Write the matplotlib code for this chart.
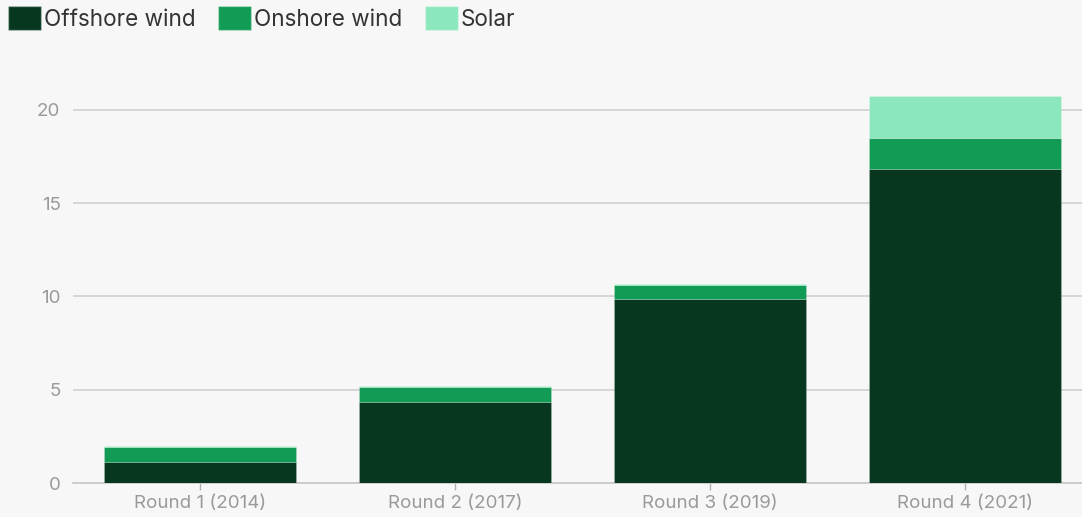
import matplotlib.pyplot as plt
from matplotlib.patches import Patch

rounds = ['Round 1 (2014)', 'Round 2 (2017)', 'Round 3 (2019)', 'Round 4 (2021)']
offshore = [1.13, 4.34, 9.85, 16.82]
onshore = [0.82, 0.82, 0.77, 1.66]
solar = [0.05, 0.05, 0.05, 2.27]

colors = {'Offshore wind': '#07381F', 'Onshore wind': '#129B55', 'Solar': '#8CE8BC'}
bg = '#F7F7F7'

plt.rcParams['font.family'] = ['Inter', 'DejaVu Sans']

fig = plt.figure(figsize=(10.82, 5.17), dpi=100, facecolor=bg)
ax = fig.add_axes([73 / 1082, 34 / 517, 1 - 73 / 1082, (483 - 60) / 517])
ax.set_facecolor(bg)

x = range(len(rounds))
bottom2 = [a + b for a, b in zip(offshore, onshore)]
kw = dict(width=0.75, edgecolor=(1, 1, 1, 0.2), linewidth=0.6, zorder=3)
ax.bar(x, offshore, color=colors['Offshore wind'], **kw)
ax.bar(x, onshore, bottom=offshore, color=colors['Onshore wind'], **kw)
ax.bar(x, solar, bottom=bottom2, color=colors['Solar'], **kw)

ax.set_xlim(-0.498, 3.459)
ax.set_ylim(0, 22.68)
ax.set_yticks([0, 5, 10, 15, 20])
ax.set_xticks(list(x))
ax.set_xticklabels(rounds)
ax.grid(axis='y', color='#D0D0D0', linewidth=1.2, zorder=0)
for s in ['top', 'right', 'left']:
    ax.spines[s].set_visible(False)
ax.spines['bottom'].set_color('#C8C8C8')
ax.spines['bottom'].set_linewidth(1.2)
ax.tick_params(axis='y', length=0, pad=9, labelsize=13.5, labelcolor='#9A9A9A')
ax.tick_params(axis='x', length=5, width=1, color='#B0B0B0', pad=4,
               labelsize=13.5, labelcolor='#9A9A9A')

handles = [Patch(facecolor=c, edgecolor=(1, 1, 1, 0.3), label=k) for k, c in colors.items()]
fig.legend(handles=handles, loc='upper left', bbox_to_anchor=(-0.007, 1.018), ncol=3,
           frameon=False, fontsize=16.2, labelcolor='#333333',
           handlelength=1.45, handleheight=1.25, handletextpad=0.15,
           columnspacing=1.0, borderaxespad=0.3)

fig.savefig('out.png', dpi=100, facecolor=bg)
